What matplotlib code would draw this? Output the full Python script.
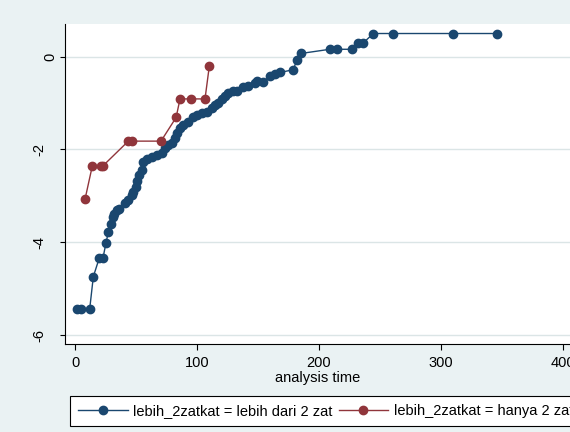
import matplotlib
matplotlib.use('Agg')
import matplotlib.pyplot as plt
import matplotlib.transforms as mtransforms

plt.rcParams['font.family'] = ['Liberation Sans', 'DejaVu Sans']
plt.rcParams['axes.unicode_minus'] = False

# lebih_2zatkat = lebih dari 2 zat
blue_x = [2, 5, 12, 15, 20, 23, 25.4, 27.3, 29.4, 31.2, 32.3, 34.2, 36, 41, 43.7,
          46.5, 47.8, 50, 51.1, 52.7, 54.7, 56, 58.8, 62.9, 67, 71.1, 73.8, 76.5,
          79.3, 82, 84, 86.1, 88.8, 93, 97, 99.8, 104, 108, 112, 114.8, 117.6,
          120.3, 123, 125.8, 129.9, 132.6, 138, 142.2, 147.7, 149, 154.5, 160,
          164, 168.2, 179, 182, 185.4, 209, 214.7, 227, 232.4, 236.5, 244.7,
          260.6, 309.8, 346.4]
blue_y = [-5.44, -5.44, -5.44, -4.74, -4.33, -4.33, -4.01, -3.78, -3.60, -3.45,
          -3.40, -3.30, -3.28, -3.16, -3.09, -2.98, -2.91, -2.80, -2.69, -2.55,
          -2.44, -2.28, -2.21, -2.16, -2.12, -2.08, -1.97, -1.90, -1.85, -1.76,
          -1.65, -1.54, -1.47, -1.40, -1.31, -1.26, -1.21, -1.19, -1.11, -1.04,
          -0.99, -0.92, -0.85, -0.79, -0.73, -0.73, -0.65, -0.63, -0.56, -0.52,
          -0.54, -0.42, -0.37, -0.34, -0.28, -0.07, 0.07, 0.16, 0.16, 0.16,
          0.30, 0.30, 0.50, 0.50, 0.50, 0.50]

# lebih_2zatkat = hanya 2 zat
red_x = [8.2, 14.2, 21.5, 23, 43.7, 46.4, 70.5, 82.9, 86.1, 94.9, 106.6, 110.2]
red_y = [-3.07, -2.35, -2.35, -2.35, -1.82, -1.82, -1.82, -1.31, -0.91, -0.91,
         -0.91, -0.19]

labels = ['lebih_2zatkat = lebih dari 2 zat', 'lebih_2zatkat = hanya 2 zat']
xticks = [0, 100, 200, 300, 400]
yticks = [-6, -4, -2, 0]

W, H = 570, 432
fig = plt.figure(figsize=(W / 100, H / 100), dpi=100, facecolor='#eaf2f3')
ax = fig.add_axes([65.3 / W, 1 - 344.3 / H, 1 - 65.3 / W, (344.3 - 24) / H])
ax.set_facecolor('white')

l1, = ax.plot(blue_x, blue_y, color='#1a476f', marker='o', markersize=6,
              linewidth=1.0, label=labels[0], zorder=3)
l2, = ax.plot(red_x, red_y, color='#90353b', marker='o', markersize=6,
              linewidth=1.0, label=labels[1], zorder=4)

ax.set_xlim(-8, 406)
ax.set_ylim(-6.2, 0.705)
ax.set_xticks(xticks)
ax.set_yticks(yticks)
ax.grid(axis='y', color='#dbe5e6', linewidth=1.0)
ax.set_axisbelow(True)

for s in ['top', 'right']:
    ax.spines[s].set_visible(False)
for s in ['left', 'bottom']:
    ax.spines[s].set_linewidth(0.8)

ax.tick_params(axis='x', length=4.5, width=0.8, pad=4, labelsize=10.5)
ax.tick_params(axis='y', length=3.8, width=0.8, pad=10, labelsize=10.5)
for lab in ax.get_yticklabels():
    lab.set_rotation(90)
    lab.set_va('center')
fig.canvas.draw()
for lab in ax.get_yticklabels():
    if lab.get_text() == '0':
        off = mtransforms.ScaledTranslation(8 / 72, 0, fig.dpi_scale_trans)
        lab.set_transform(lab.get_transform() + off)

ax.set_xlabel('analysis time', fontsize=10.5, labelpad=1)

leg = fig.legend([l1, l2], labels, loc='upper left',
                 bbox_to_anchor=(70 / W, 1 - 396 / H), ncol=2, fontsize=10.5,
                 frameon=True, fancybox=False, edgecolor='black', framealpha=1,
                 handlelength=3.4, handletextpad=0.4, columnspacing=0.4,
                 borderpad=0.55, borderaxespad=0)
leg.get_frame().set_linewidth(0.8)

fig.savefig('out.png', dpi=100, facecolor=fig.get_facecolor())
